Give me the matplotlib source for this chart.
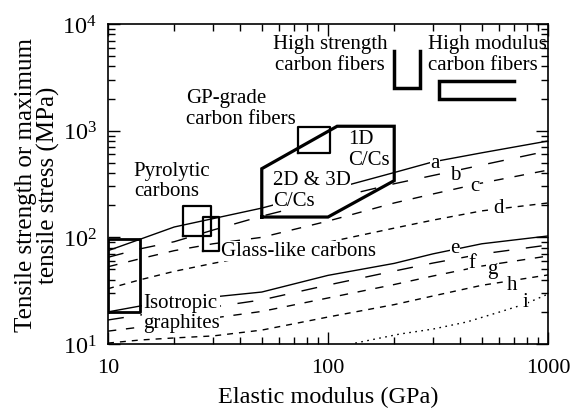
import matplotlib
matplotlib.use('Agg')
import matplotlib.pyplot as plt
from matplotlib.ticker import FixedLocator, FuncFormatter, NullFormatter, LogFormatterSciNotation

plt.rcParams['font.family'] = ['Liberation Serif', 'DejaVu Serif']
plt.rcParams['mathtext.fontset'] = 'stix'

# curves a..i : elastic modulus (GPa) vs tensile stress (MPa)
mod_a = [10, 14, 20, 50, 100, 200, 300, 500, 1000]
str_a = [75, 96, 125, 188, 275, 405, 510, 620, 800]
mod_b = [10, 14, 20, 30, 50, 100, 200, 300, 500, 1000]
str_b = [65, 78, 91, 117, 158, 226, 318, 380, 476, 645]
mod_c = [10, 14, 20, 30, 50, 100, 200, 300, 500, 1000]
str_c = [53, 63, 75, 87, 100, 142, 210, 255, 323, 427]
mod_d = [10, 14, 20, 30, 50, 100, 200, 300, 500, 1000]
str_d = [33, 40, 48, 57, 70, 90, 122, 145, 177, 210]
mod_e = [10, 14, 30, 50, 100, 200, 300, 500, 1000]
str_e = [20, 22.7, 27.6, 30.7, 44, 57, 70, 87, 103]
mod_f = [10, 14, 30, 50, 100, 200, 300, 500, 1000]
str_f = [16.8, 18.7, 22.2, 25.9, 35.7, 48.3, 57.4, 69.8, 84.7]
mod_g = [10, 14, 30, 50, 100, 200, 300, 500, 1000]
str_g = [13.2, 14.4, 17.5, 20.2, 27, 36.1, 43.4, 53.8, 66.8]
mod_h = [10, 14, 20, 30, 50, 100, 200, 300, 500, 1000]
str_h = [10.2, 10.9, 11.4, 11.9, 13.5, 17.9, 23.4, 28.2, 35.5, 44.4]
mod_i = [133, 212, 300, 428, 605, 786, 1000]
str_i = [10.2, 12.4, 13.8, 16.1, 20, 23.7, 29.4]

curve_names = ['a', 'b', 'c', 'd', 'e', 'f', 'g', 'h', 'i']
label_mod = [306, 378, 466, 593, 378, 451, 556, 686, 786]
label_str = [508, 392, 303, 192, 81, 58.7, 50.5, 36.5, 24.8]

# material regions
iso_mod = [10, 14, 14, 10, 10]
iso_str = [20, 20, 97, 97, 20]
pyro_mod = [22, 29.4, 29.4, 22, 22]
pyro_str = [103, 103, 197, 197, 103]
glass_mod = [27, 32, 32, 27, 27]
glass_str = [75, 75, 155, 155, 75]
gp_mod = [73, 102, 102, 73, 73]
gp_str = [620, 620, 1080, 1080, 620]
cc_mod = [50, 50, 110, 200, 200, 100, 50]
cc_str = [155, 440, 1100, 1100, 340, 155, 155]
hs_mod = [200, 200, 262, 262]
hs_str = [5600, 2500, 2500, 5600]
hm_mod = [700, 320, 320, 700]
hm_str = [2900, 2900, 2000, 2000]

fig = plt.figure(figsize=(5.74, 4.10), dpi=100)
ax = fig.add_axes([108/574, 65/410, 440/574, 320/410])
ax.set_xscale('log')
ax.set_yscale('log')
ax.set_xlim(10, 1000)
ax.set_ylim(10, 1e4)

lw = 1.0
ax.plot(mod_a, str_a, 'k-', lw=lw, zorder=2)
ax.plot(mod_b, str_b, 'k', lw=lw, dashes=(11.5, 12), zorder=2)
ax.plot(mod_c, str_c, 'k', lw=lw, dashes=(7, 8), zorder=2)
ax.plot(mod_d, str_d, 'k', lw=lw, dashes=(4.3, 4.3), zorder=2)
ax.plot(mod_e, str_e, 'k-', lw=lw, zorder=2)
ax.plot(mod_f, str_f, 'k', lw=lw, dashes=(11.5, 12), zorder=2)
ax.plot(mod_g, str_g, 'k', lw=lw, dashes=(6, 7), zorder=2)
ax.plot(mod_h, str_h, 'k', lw=lw, dashes=(4.3, 4.3), zorder=2)
ax.plot(mod_i, str_i, 'k', lw=lw, dashes=(1.2, 3.2), zorder=2)

wb = dict(facecolor='white', edgecolor='none', pad=0.5)
for name, x, y in zip(curve_names, label_mod, label_str):
    ax.text(x, y, name, fontsize=15, ha='center', va='center', bbox=wb, zorder=3)

# region outlines
ax.plot(iso_mod, iso_str, 'k-', lw=2.0, zorder=4)
ax.plot(pyro_mod, pyro_str, 'k-', lw=1.6, zorder=4)
ax.plot(glass_mod, glass_str, 'k-', lw=1.6, zorder=4)
ax.plot(gp_mod, gp_str, 'k-', lw=1.6, zorder=4)
ax.plot(cc_mod, cc_str, 'k-', lw=2.3, zorder=4, solid_joinstyle='miter')
ax.plot(hs_mod, hs_str, 'k-', lw=2.5, zorder=4, solid_joinstyle='miter')
ax.plot(hm_mod, hm_str, 'k-', lw=2.5, zorder=4, solid_joinstyle='miter')

tb = dict(facecolor='white', edgecolor='none', pad=0.3)
fs = 15
ax.text(102, 5240, 'High strength\ncarbon fibers', fontsize=fs, ha='center', va='center',
        multialignment='center', linespacing=1.1, zorder=3)
ax.text(285, 5240, 'High modulus\ncarbon fibers', fontsize=fs, ha='left', va='center',
        linespacing=1.1, zorder=3)
ax.text(22.6, 1630, 'GP-grade\ncarbon fibers', fontsize=fs, ha='left', va='center',
        linespacing=1.1, bbox=tb, zorder=3)
ax.text(13.1, 341, 'Pyrolytic\ncarbons', fontsize=fs, ha='left', va='center',
        linespacing=1.1, bbox=tb, zorder=3)
ax.text(32.5, 74.5, 'Glass-like carbons', fontsize=fs, ha='left', va='center',
        bbox=tb, zorder=3)
ax.text(14.4, 19.7, 'Isotropic\ngraphites', fontsize=fs, ha='left', va='center',
        linespacing=1.1, bbox=tb, zorder=3)
ax.text(123, 673, '1D\nC/Cs', fontsize=fs, ha='left', va='center',
        linespacing=1.1, bbox=tb, zorder=3)
ax.text(56.2, 278, '2D & 3D\nC/Cs', fontsize=fs, ha='left', va='center',
        linespacing=1.1, bbox=tb, zorder=3)

# axes styling
ax.xaxis.set_major_locator(FixedLocator([10, 100, 1000]))
ax.xaxis.set_major_formatter(FuncFormatter(lambda v, _: f'{v:g}'))
ax.xaxis.set_minor_formatter(NullFormatter())
ax.yaxis.set_major_formatter(LogFormatterSciNotation())
ax.yaxis.set_minor_formatter(NullFormatter())
ax.tick_params(which='both', direction='in', top=True, right=True, width=1.0)
ax.tick_params(which='major', length=8.5)
ax.tick_params(which='minor', length=5)
ax.tick_params(axis='x', pad=10, labelsize=16)
ax.tick_params(axis='y', pad=8, labelsize=17.5)
for sp in ax.spines.values():
    sp.set_linewidth(1.2)

ax.set_xlabel('Elastic modulus (GPa)', fontsize=17.5)
ax.xaxis.set_label_coords(0.5, -0.13)
ax.set_ylabel('Tensile strength or maximum\ntensile stress (MPa)', fontsize=18, linespacing=1.05)
ax.yaxis.set_label_coords(-0.108, 0.5)

fig.savefig('out.png', dpi=100)
